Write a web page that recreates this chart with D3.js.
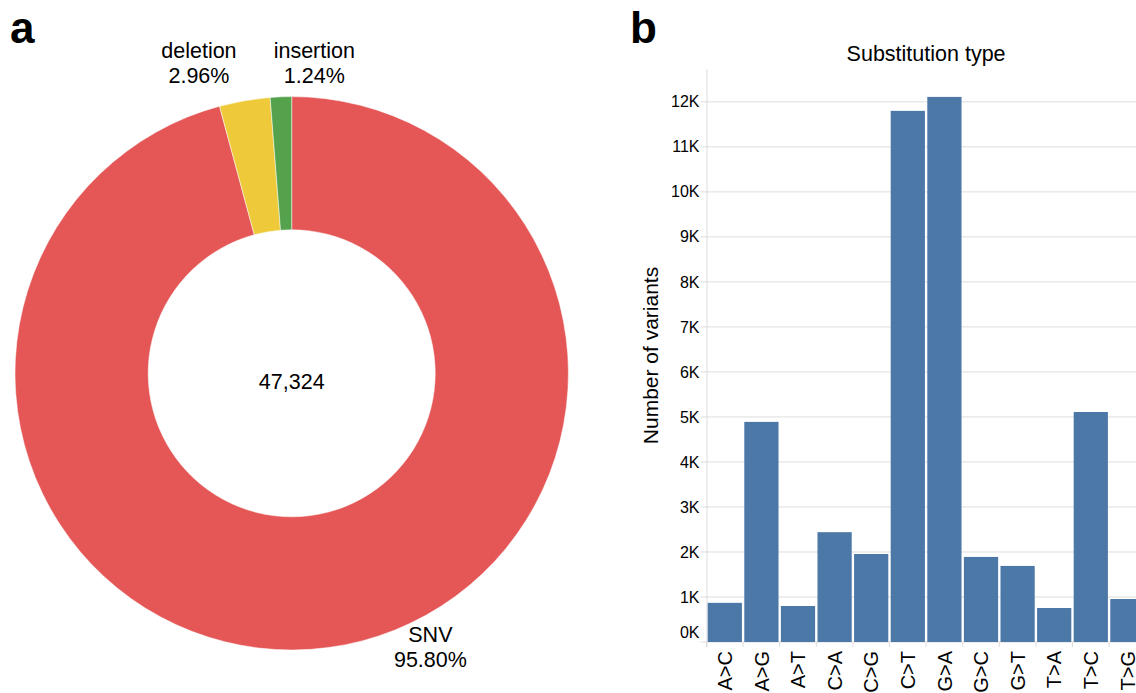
<!DOCTYPE html>
<html>
<head>
<meta charset="utf-8">
<script src="https://cdn.jsdelivr.net/npm/d3@7"></script>
<style>
  body { margin: 0; background: #fff; }
  text { font-family: "Liberation Sans", Arial, Helvetica, sans-serif; fill: #000; }
</style>
</head>
<body>
<svg id="fig" width="1136" height="693"></svg>
<script>
// ---- Panel a: variant classes ----
const variantTypes = ["SNV", "deletion", "insertion"];
const variantShares = [95.80, 2.96, 1.24];
const variantColors = ["#e45756", "#eeca3b", "#54a24b"];
const totalVariants = 47324;

// ---- Panel b: substitution types ----
const substitutions = ["A>C", "A>G", "A>T", "C>A", "C>G", "C>T", "G>A", "G>C", "G>T", "T>A", "T>C", "T>G"];
const substitutionCounts = [870, 4890, 800, 2440, 1955, 11800, 12110, 1890, 1690, 755, 5110, 955];
const countTicks = [0, 1000, 2000, 3000, 4000, 5000, 6000, 7000, 8000, 9000, 10000, 11000, 12000];
const countTickLabels = ["0K", "1K", "2K", "3K", "4K", "5K", "6K", "7K", "8K", "9K", "10K", "11K", "12K"];

const svg = d3.select("#fig");

// panel letters
svg.append("text").attr("x", 10).attr("y", 43)
  .style("font-size", "44px").style("font-weight", "bold").text("a");
svg.append("text").attr("x", 630).attr("y", 43)
  .style("font-size", "44px").style("font-weight", "bold").text("b");

// ---------------- donut ----------------
const pieCx = 291.7, pieCy = 373.3, outerR = 276.7, innerR = 143.5;
const donut = svg.append("g").attr("transform", `translate(${pieCx},${pieCy})`);

const pie = d3.pie().sort(null).value(d => d.value);
const slices = pie(variantTypes.map((t, i) => ({ type: t, value: variantShares[i], color: variantColors[i] })));
const arc = d3.arc().innerRadius(innerR).outerRadius(outerR);

donut.selectAll("path.slice")
  .data(slices)
  .join("path")
  .attr("class", "slice")
  .attr("d", arc)
  .attr("fill", d => d.data.color)
  .attr("stroke", "#fff")
  .attr("stroke-width", 0.5);

donut.append("text")
  .attr("text-anchor", "middle")
  .attr("y", 16)
  .style("font-size", "21.5px")
  .text(d3.format(",")(totalVariants));

// label placement (polar: degrees clockwise from 12 o'clock, radius)
const labelPolar = [
  { angle: 152.7, r: 302.4 },
  { angle: -16.4, r: 328.6 },
  { angle: 4.1, r: 316.1 }
];
const fmtPct = d3.format(".2f");
slices.forEach((s, i) => {
  const a = labelPolar[i].angle * Math.PI / 180;
  const x = labelPolar[i].r * Math.sin(a);
  const y = -labelPolar[i].r * Math.cos(a);
  const t = donut.append("text")
    .attr("text-anchor", "middle")
    .attr("x", x).attr("y", y)
    .style("font-size", "21.5px");
  t.append("tspan").attr("x", x).attr("y", y).text(s.data.type);
  t.append("tspan").attr("x", x).attr("y", y + 25).text(fmtPct(s.data.value) + "%");
});

// ---------------- bar chart ----------------
const plotLeft = 706.5, plotRight = 1145.7, plotTop = 69, plotBottom = 642;

const x = d3.scaleBand()
  .domain(substitutions)
  .range([plotLeft, plotRight])
  .paddingInner(0.065)
  .paddingOuter(0.0325);

const y = d3.scaleLinear()
  .domain([0, 12730])
  .range([plotBottom, plotTop]);

const grid = svg.append("g");
grid.selectAll("line")
  .data(countTicks)
  .join("line")
  .attr("x1", plotLeft - 6).attr("x2", plotRight)
  .attr("y1", d => y(d)).attr("y2", d => y(d))
  .attr("stroke", "#dddddd").attr("stroke-width", 1);

// y domain line
svg.append("line")
  .attr("x1", plotLeft + 0.5).attr("x2", plotLeft + 0.5)
  .attr("y1", plotTop).attr("y2", plotBottom + 5)
  .attr("stroke", "#dddddd").attr("stroke-width", 1);

// x ticks at band boundaries
const step = x.step();
svg.append("g").selectAll("line")
  .data(substitutions)
  .join("line")
  .attr("x1", d => x(d) - x.paddingOuter() * step)
  .attr("x2", d => x(d) - x.paddingOuter() * step)
  .attr("y1", plotBottom).attr("y2", plotBottom + 5)
  .attr("stroke", "#dddddd").attr("stroke-width", 1);

// bars
svg.append("g").selectAll("rect")
  .data(substitutions.map((s, i) => ({ s, v: substitutionCounts[i] })))
  .join("rect")
  .attr("x", d => x(d.s))
  .attr("width", x.bandwidth())
  .attr("y", d => y(d.v))
  .attr("height", d => y(0) - y(d.v))
  .attr("fill", "#4c78a8");

// y tick labels
svg.append("g").selectAll("text")
  .data(countTicks)
  .join("text")
  .attr("x", plotLeft - 7)
  .attr("y", (d, i) => i === 0 ? y(d) - 4 : y(d))
  .attr("dy", (d, i) => i === 0 ? "0" : "0.35em")
  .attr("text-anchor", "end")
  .style("font-size", "16px")
  .text((d, i) => countTickLabels[i]);

// x tick labels (rotated)
svg.append("g").selectAll("text")
  .data(substitutions)
  .join("text")
  .attr("transform", d => `translate(${x(d) + x.bandwidth() / 2},${plotBottom + 9}) rotate(-90)`)
  .attr("text-anchor", "end")
  .attr("dy", "0.36em")
  .style("font-size", "20px")
  .text(d => d);

// axis title
svg.append("text")
  .attr("transform", `translate(658,${(plotTop + plotBottom) / 2}) rotate(-90)`)
  .attr("text-anchor", "middle")
  .style("font-size", "21px")
  .text("Number of variants");

// chart title
svg.append("text")
  .attr("x", (plotLeft + plotRight) / 2)
  .attr("y", 61)
  .attr("text-anchor", "middle")
  .style("font-size", "21.5px")
  .text("Substitution type");
</script>
</body>
</html>
